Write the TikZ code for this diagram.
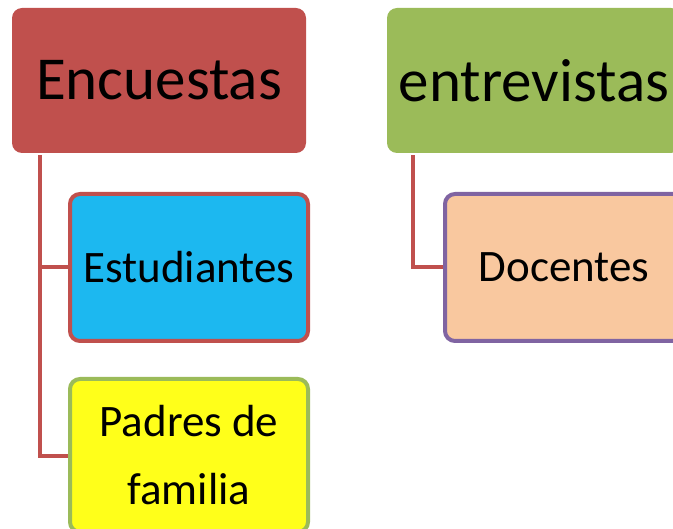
\documentclass[tikz,border=0pt]{standalone}
\usepackage{fontspec}
\setmainfont{Carlito}
\definecolor{cred}{HTML}{C0504D}
\definecolor{cgreen}{HTML}{9BBB59}
\definecolor{cblue}{HTML}{1CB8F0}
\definecolor{cyel}{HTML}{FFFF1A}
\definecolor{cpeach}{HTML}{F9C89F}
\definecolor{cpurple}{HTML}{8064A2}
\begin{document}
\begin{tikzpicture}[x=1pt,y=-1pt,
  top/.style={rounded corners=10pt, minimum width=294pt, minimum height=145pt, inner sep=0pt, font=\fontsize{61}{72}\selectfont},
  sub/.style={rounded corners=10pt, line width=4pt, minimum width=238pt, minimum height=147pt, inner sep=0pt, align=center, font=\fontsize{45}{68}\selectfont},
  conn/.style={draw=cred, line width=4pt}]
\useasboundingbox (0,0) rectangle (673,529);
\node[top, fill=cred] (enc) at (159,80.5) {Encuestas};
\node[top, fill=cgreen] (ent) at (534,80.5) {entrevistas};
\node[sub, fill=cblue, draw=cred] (est) at (189,267.5) {Estudiantes};
\node[sub, fill=cyel, draw=cgreen, minimum height=153pt] (pad) at (189,455.5) {Padres de\\familia};
\node[sub, fill=cpeach, draw=cpurple] (doc) at (564,267.5) {Docentes};
\coordinate (e1) at ([xshift=28pt,yshift=-2pt]enc.south west);
\coordinate (e2) at ([xshift=26pt,yshift=-2pt]ent.south west);
\draw[conn] (e1) |- (est.west);
\draw[conn] (e1) |- ([yshift=-1pt]pad.west);
\draw[conn] (e2) |- (doc.west);
\end{tikzpicture}
\end{document}
